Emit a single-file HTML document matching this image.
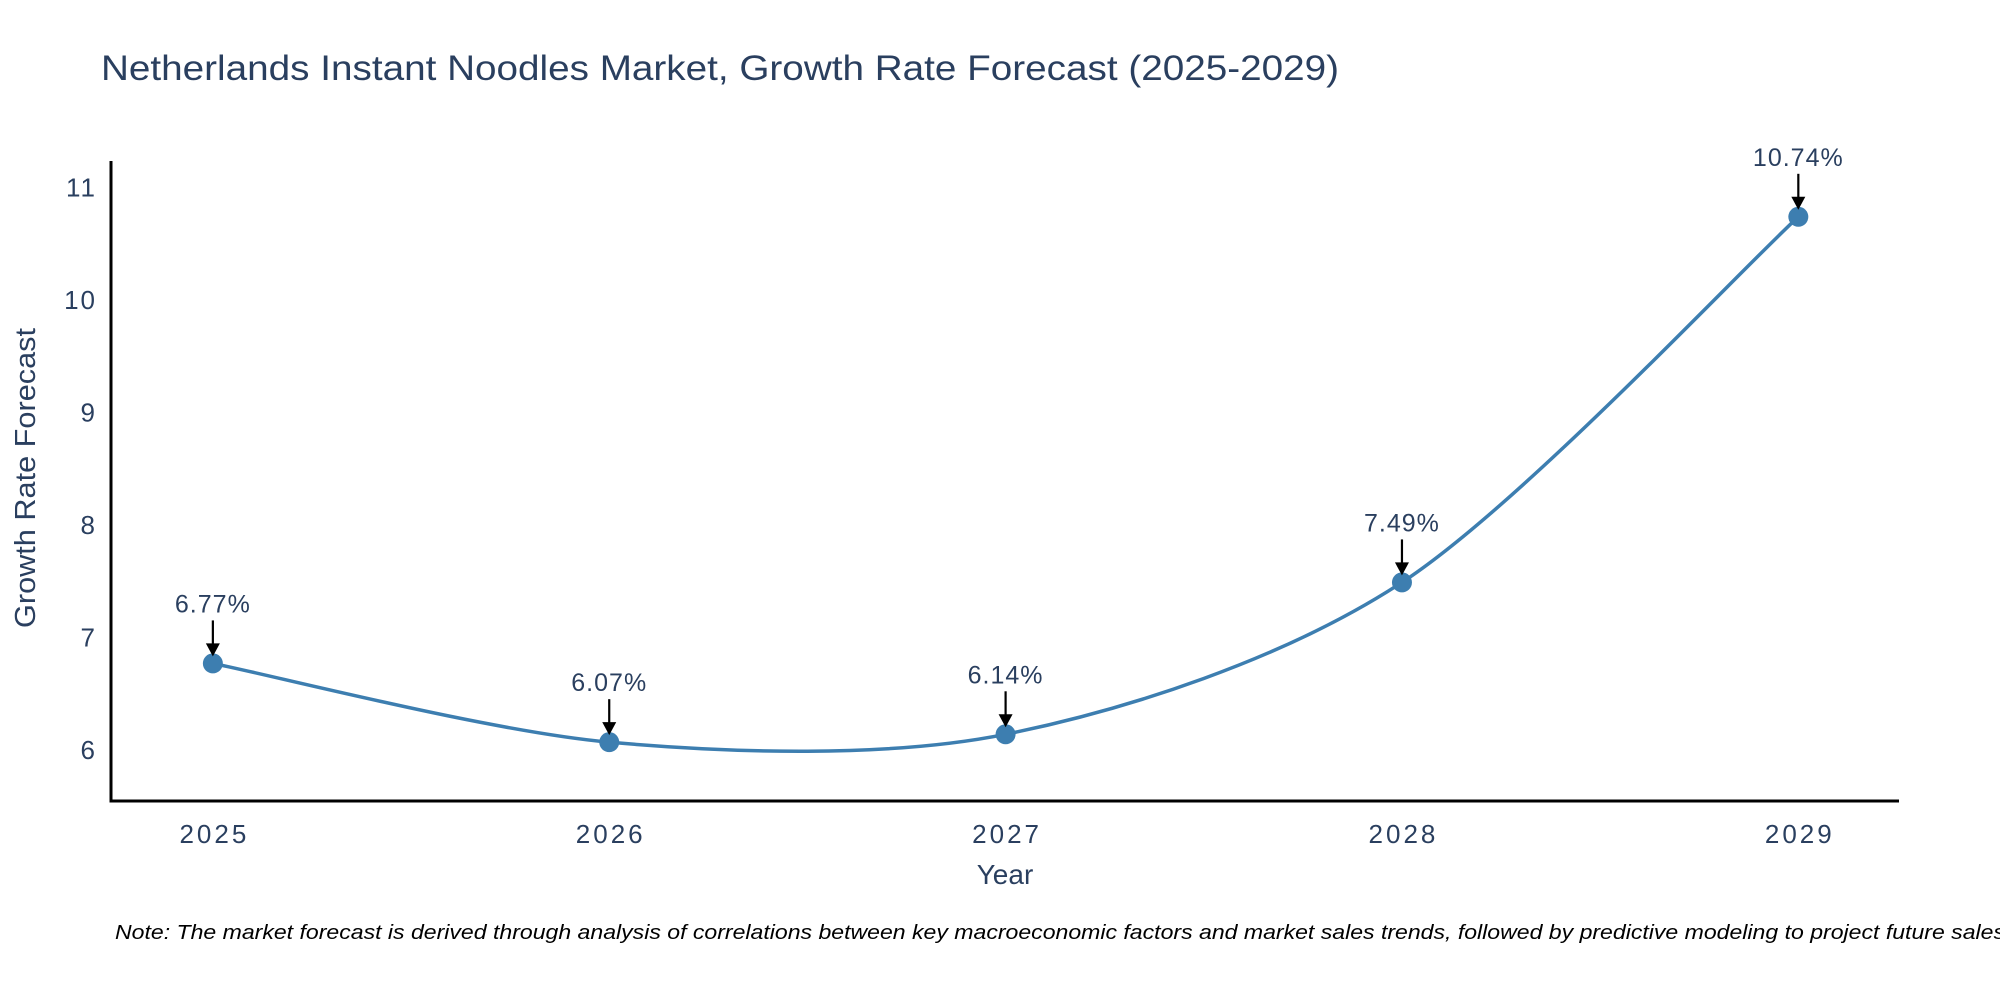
<!DOCTYPE html>
<html><head><meta charset="utf-8"><style>
html,body{margin:0;padding:0;background:#fff;}
svg{display:block;font-family:"Liberation Sans","DejaVu Sans",sans-serif;}
</style></head><body>
<svg id="chart" width="2000" height="1000" viewBox="0 0 2000 1000">
<rect width="2000" height="1000" fill="#fff"/>
<text x="101" y="80" font-size="35" fill="#2a3f5f" textLength="1238" lengthAdjust="spacingAndGlyphs">Netherlands Instant Noodles Market, Growth Rate Forecast (2025-2029)</text>
<g id="plot"></g>
<text x="1005" y="884" font-size="28" fill="#2a3f5f" text-anchor="middle">Year</text>
<text transform="translate(35,478) rotate(-90)" font-size="29" fill="#2a3f5f" text-anchor="middle" textLength="300" lengthAdjust="spacingAndGlyphs">Growth Rate Forecast</text>
<text x="115" y="939" font-size="20" font-style="italic" fill="#000" textLength="1890" lengthAdjust="spacingAndGlyphs">Note: The market forecast is derived through analysis of correlations between key macroeconomic factors and market sales trends, followed by predictive modeling to project future sales</text>
</svg>
<script>
const years = [2025, 2026, 2027, 2028, 2029];
const growth = [6.77, 6.07, 6.14, 7.49, 10.74];
const labels = ["6.77%", "6.07%", "6.14%", "7.49%", "10.74%"];
const yTicks = [6, 7, 8, 9, 10, 11];

const NS = "http://www.w3.org/2000/svg";
const X0 = 111, X1 = 1899, Y0 = 801, Y1 = 161;
const xMin = 2024.743, xMax = 2029.254, yMin = 5.547, yMax = 11.236;
const xs = v => X0 + (v - xMin) / (xMax - xMin) * (X1 - X0);
const ys = v => Y0 - (v - yMin) / (yMax - yMin) * (Y0 - Y1);
const plot = document.getElementById("plot");
function mk(tag, attrs) { const e = document.createElementNS(NS, tag); for (const k in attrs) e.setAttribute(k, attrs[k]); plot.appendChild(e); return e; }

const yAxis = mk("line", {x1: X0, y1: Y1, x2: X0, y2: Y0 + 1.5, stroke: "#000", "stroke-width": 3});


const xAxis = mk("line", {x1: X0 - 1.5, y1: Y0, x2: X1, y2: Y0, stroke: "#000", "stroke-width": 3});



yTicks.forEach(t => {
  const el = mk("text", {x: X0 - 14, y: ys(t) + 9, "font-size": 26, "letter-spacing": 2, fill: "#2a3f5f", "text-anchor": "end"});
  el.textContent = t;
  
  
});
years.forEach(t => {
  const el = mk("text", {x: xs(t) + 1.5, y: Y0 + 42, "font-size": 26, "letter-spacing": 3, fill: "#2a3f5f", "text-anchor": "middle"});
  el.textContent = t;
  
  
});

const pts = years.map((y, i) => [xs(y), ys(growth[i])]);
let d = "M" + pts[0][0] + "," + pts[0][1];
const k = 0.15;
for (let i = 0; i < pts.length - 1; i++) {
  const p0 = pts[Math.max(0, i - 1)], p1 = pts[i], p2 = pts[i + 1], p3 = pts[Math.min(pts.length - 1, i + 2)];
  const c1 = [p1[0] + (p2[0] - p0[0]) * k, p1[1] + (p2[1] - p0[1]) * k];
  const c2 = [p2[0] - (p3[0] - p1[0]) * k, p2[1] - (p3[1] - p1[1]) * k];
  d += " C" + c1[0] + "," + c1[1] + " " + c2[0] + "," + c2[1] + " " + p2[0] + "," + p2[1];
}
const line = mk("path", {d: d, fill: "none", stroke: "#3d7eb0", "stroke-width": 3.5});



pts.forEach((p, i) => {
  const c = mk("circle", {cx: p[0], cy: p[1], r: 10, fill: "#3d7eb0"});
  
  
  const a = mk("line", {x1: p[0], y1: p[1] - 43, x2: p[0], y2: p[1] - 18, stroke: "#000", "stroke-width": 2.2});
  
  
  const h = mk("path", {d: "M" + (p[0] - 7) + "," + (p[1] - 20) + " L" + (p[0] + 7) + "," + (p[1] - 20) + " L" + p[0] + "," + (p[1] - 7) + "Z", fill: "#000"});
  
  
  const t = mk("text", {x: p[0], y: p[1] - 51, "font-size": 25, "letter-spacing": 1, fill: "#2a3f5f", "text-anchor": "middle"});
  t.textContent = labels[i];
  
  
});
</script>
</body></html>
